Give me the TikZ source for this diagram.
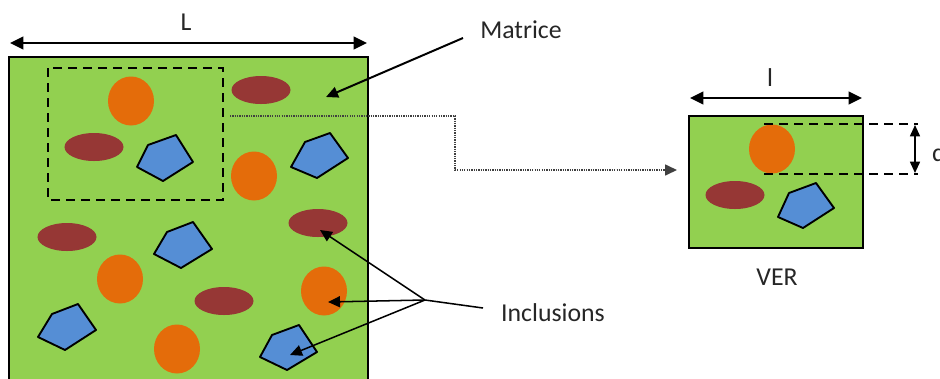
\documentclass[tikz,border=0pt]{standalone}
\usepackage{fontspec}
\setmainfont{Carlito}
\usepackage{tikz}
\usepackage{xcolor}
\usetikzlibrary{arrows.meta, calc, positioning, shapes.geometric}

\definecolor{matgreen}{RGB}{146,208,80}
\definecolor{incorange}{RGB}{228,108,10}
\definecolor{incmaroon}{RGB}{150,55,53}
\definecolor{incblue}{RGB}{85,142,213}

\begin{document}
\begin{tikzpicture}[x=0.03cm, y=-0.03cm, line width=1.7pt,
        lbl/.style={font=\fontsize{22}{26}\selectfont, text=black!85, inner sep=0pt},
        grain/.style={ellipse, fill=incorange, minimum width=1.38cm, minimum height=1.47cm, inner sep=0pt},
        fibre/.style={ellipse, fill=incmaroon, minimum width=1.77cm, minimum height=0.84cm, inner sep=0pt},
        pent/.style={fill=incblue, draw=black, line width=1.6pt, line join=round},
        tip/.style={-{Triangle[length=3.6mm, width=3.3mm]}},
        dim/.style={{Triangle[length=4mm, width=3.8mm]}-{Triangle[length=4mm, width=3.8mm]}},
        cut/.style={dash pattern=on 2.7mm off 1.8mm, line width=1.9pt}]
        \clip (0,0) rectangle (940,378);
        % matrice
        \draw[fill=matgreen, line width=2.5pt] (9,57) rectangle (368,392);
        \draw[cut] (48,68) rectangle (223,200);
        % inclusions
        \node[grain] (o1) at (131,101) {};
        \node[fibre] (m1) at (261,90) {};
        \node[fibre] (m2) at (94,147) {};
        \draw[pent] (137,167) -- (148,145) -- (176,135) -- (193,162) -- (163,181) -- cycle;
        \node[grain] (o2) at (254,176) {};
        \draw[pent] (291,167) -- (305,142) -- (330,133) -- (348,158) -- (317,178) -- cycle;
        \node[fibre] (m3) at (318,223) {};
        \node[fibre] (m4) at (67,237) {};
        \draw[pent] (154,254) -- (167,232) -- (193,222) -- (212,249) -- (181,268) -- cycle;
        \node[grain] (o3) at (120,279) {};
        \node[grain] (o4) at (324,291) {};
        \node[fibre] (m5) at (224,301) {};
        \draw[pent] (38,337) -- (52,314) -- (78,304) -- (96,330) -- (65,350) -- cycle;
        \node[grain] (o5) at (177,349) {};
        \draw[pent] (260,357) -- (272,335) -- (299,325) -- (317,352) -- (287,370) -- cycle;
        \coordinate (p5) at (290,355);
        % L
        \coordinate (Lw) at (10,43);
        \coordinate (Le) at (367,43);
        \draw[dim] (Lw) -- (Le);
        \node[lbl] (Llab) at (186,22) {L};
        % Matrice
        \node[lbl] (mat) at (521,30) {Matrice};
        \coordinate (matsrc) at (463,38);
        \coordinate (matpt) at (326,97);
        \draw[tip] (matsrc) -- (matpt);
        % VER
        \node[draw, fill=matgreen, line width=2.5pt, minimum width=5.22cm, minimum height=3.96cm, inner sep=0pt] (ver) at (776,182) {};
        \node[grain] (vo) at (772,149) {};
        \node[fibre] (vm) at (735,195) {};
        \draw[pent] (778,217) -- (789,193) -- (816,183) -- (834,208) -- (803,228) -- cycle;
        \node[lbl] (verlab) at (777,277) {VER};
        % l
        \coordinate (lw) at (690,98);
        \coordinate (le) at (862,98);
        \draw[dim] (lw) -- (le);
        \node[lbl] (llab) at (770,78) {l};
        % d
        \coordinate (dt) at (764,124);
        \coordinate (db) at (764,174);
        \draw[cut] (dt) -- (918,124);
        \draw[cut] (db) -- (918,174);
        \draw[{Triangle[length=3.4mm, width=3mm]}-{Triangle[length=3.4mm, width=3mm]}, line width=1.4pt] (915,125) -- (915,173);
        \node[lbl, anchor=west] (dlab) at (931,153) {d};
        % dotted path to VER
        \coordinate (cutsrc) at (230,116);
        \coordinate (verin) at (677,170);
        \draw[dash pattern=on 1.1pt off 0.9pt, line width=1.4pt, black!75, tip] (cutsrc) -- (455,116) -- (455,170) -- (verin);
        % Inclusions
        \node[lbl] (inc) at (553,313) {Inclusions};
        \coordinate (incsrc) at (483,308);
        \coordinate (join) at (425,300);
        \draw[line width=1.3pt] (incsrc) -- (join);
        \draw[tip, line width=1.3pt] (join) -- ($(m3.center)+(2,7)$);
        \draw[tip, line width=1.3pt] (join) -- ($(o4.center)+(4,11)$);
        \draw[tip, line width=1.3pt] (join) -- (p5);
    \end{tikzpicture}
\end{document}
